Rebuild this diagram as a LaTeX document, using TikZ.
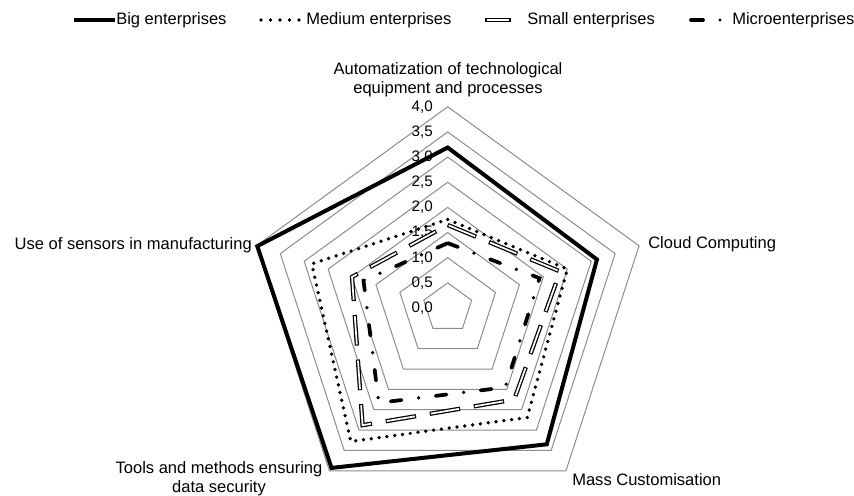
\documentclass[tikz,border=0pt]{standalone}
\usepackage{fontspec}
\setmainfont{Liberation Sans}
\definecolor{gridgray}{HTML}{8C8C8C}
\tikzset{
  grid/.style={draw=gridgray, line width=0.75pt, line join=miter},
  axislabel/.style={font=\fontsize{12.4}{14.25}\selectfont, inner sep=0pt, align=center},
  ticklabel/.style={font=\fontsize{11.4}{13}\selectfont, anchor=east, inner sep=0pt},
  legendtext/.style={font=\fontsize{12.4}{14.25}\selectfont, anchor=west, inner sep=0pt},
  bigline/.style={line width=3pt, line join=miter},
  mediumline/.style={line width=2.8pt, line cap=round, dash pattern=on 0pt off 5.9pt},
  smallouter/.style={line width=3.2pt, dash pattern=on 23pt off 10.5pt},
  smallinner/.style={draw=white, line width=1.3pt, dash pattern=on 21.4pt off 12.1pt, dash phase=32.7pt},
  microline/.style={line width=2.8pt, line cap=round, dash pattern=on 8.2pt off 12.9pt on 0pt off 12.9pt},
}
\begin{document}
\begin{tikzpicture}[x=0.75pt, y=0.75pt]
\useasboundingbox (0,0) rectangle (854,496);
\def\unitr{50.3}

\begin{scope}[shift={(447.7,188)}]
  % concentric pentagonal grid rings, every 0.5
  \foreach \k in {1,...,8}
    \draw[grid] (90:{\k*0.5*\unitr}) -- (18:{\k*0.5*\unitr}) -- (-54:{\k*0.5*\unitr})
      -- (-126:{\k*0.5*\unitr}) -- (162:{\k*0.5*\unitr}) -- cycle;

  % scale values along the vertical axis
  \node[ticklabel] (t00) at (-14.7, {0.0*\unitr}) {0,0};
  \node[ticklabel] (t05) at (-14.7, {0.5*\unitr}) {0,5};
  \node[ticklabel] (t10) at (-14.7, {1.0*\unitr}) {1,0};
  \node[ticklabel] (t15) at (-14.7, {1.5*\unitr}) {1,5};
  \node[ticklabel] (t20) at (-14.7, {2.0*\unitr}) {2,0};
  \node[ticklabel] (t25) at (-14.7, {2.5*\unitr}) {2,5};
  \node[ticklabel] (t30) at (-14.7, {3.0*\unitr}) {3,0};
  \node[ticklabel] (t35) at (-14.7, {3.5*\unitr}) {3,5};
  \node[ticklabel] (t40) at (-14.7, {4.0*\unitr}) {4,0};

  % data points: automatization, cloud, mass customisation, tools, sensors
  \coordinate (b1) at (90:{3.19*\unitr});
  \coordinate (b2) at (18:{3.12*\unitr});
  \coordinate (b3) at (-54:{3.35*\unitr});
  \coordinate (b4) at (-126:{3.93*\unitr});
  \coordinate (b5) at (162:{3.98*\unitr});

  \coordinate (m1) at (90:{1.76*\unitr});
  \coordinate (m2) at (18:{2.50*\unitr});
  \coordinate (m3) at (-54:{2.69*\unitr});
  \coordinate (m4) at (-126:{3.28*\unitr});
  \coordinate (m5) at (162:{2.84*\unitr});

  \coordinate (s1) at (90:{1.65*\unitr});
  \coordinate (s2) at (18:{2.35*\unitr});
  \coordinate (s3) at (-54:{2.25*\unitr});
  \coordinate (s4) at (-126:{2.88*\unitr});
  \coordinate (s5) at (162:{2.00*\unitr});

  \coordinate (c1) at (90:{1.29*\unitr});
  \coordinate (c2) at (18:{1.92*\unitr});
  \coordinate (c3) at (-54:{1.95*\unitr});
  \coordinate (c4) at (-126:{2.33*\unitr});
  \coordinate (c5) at (162:{1.76*\unitr});

  % series
  \draw[bigline] (b1) -- (b2) -- (b3) -- (b4) -- (b5) -- cycle;
  \draw[mediumline] (m1) -- (m2) -- (m3) -- (m4) -- (m5) -- cycle;
  \draw[smallouter] (s1) -- (s2) -- (s3) -- (s4) -- (s5) -- cycle;
  \draw[smallinner] (s1) -- (s2) -- (s3) -- (s4) -- (s5) -- cycle;
  \draw[microline] (c1) -- (c2) -- (c3) -- (c4) -- (c5) -- cycle;
\end{scope}

% category labels
\node[axislabel] (ax-auto) at (448,416.5) {Automatization of technological\\equipment and processes};
\node[axislabel, anchor=west] (ax-cloud) at (648,252) {Cloud Computing};
\node[axislabel, anchor=west] (ax-mass) at (572,16) {Mass Customisation};
\node[axislabel] (ax-tools) at (219,17) {Tools and methods ensuring\\data security};
\node[axislabel, anchor=east] (ax-sens) at (252,251) {Use of sensors in manufacturing};

% legend
\coordinate (lg-b-a) at (74,476);   \coordinate (lg-b-b) at (115,476);
\coordinate (lg-m-a) at (261,476);  \coordinate (lg-m-b) at (299,476);
\coordinate (lg-s-a) at (485,476);  \coordinate (lg-s-b) at (511,476);
\coordinate (lg-si-a) at (486.6,476); \coordinate (lg-si-b) at (509.4,476);
\coordinate (lg-c-a) at (691,476);  \coordinate (lg-c-b) at (703,476);
\coordinate (lg-c-d) at (720,476);
\draw[bigline] (lg-b-a) -- (lg-b-b);
\draw[mediumline, dash pattern=on 0pt off 7.125pt] (lg-m-a) -- (lg-m-b);
\draw[line width=3.2pt] (lg-s-a) -- (lg-s-b);
\draw[white, line width=1.3pt] (lg-si-a) -- (lg-si-b);
\draw[line width=2.8pt, line cap=round] (lg-c-a) -- (lg-c-b);
\fill (lg-c-d) circle (1.3pt);
\node[legendtext] (lg-big) at (116,476) {Big enterprises};
\node[legendtext] (lg-med) at (306,476) {Medium enterprises};
\node[legendtext] (lg-sml) at (527,476) {Small enterprises};
\node[legendtext] (lg-mic) at (732,476) {Microenterprises};
\end{tikzpicture}
\end{document}
